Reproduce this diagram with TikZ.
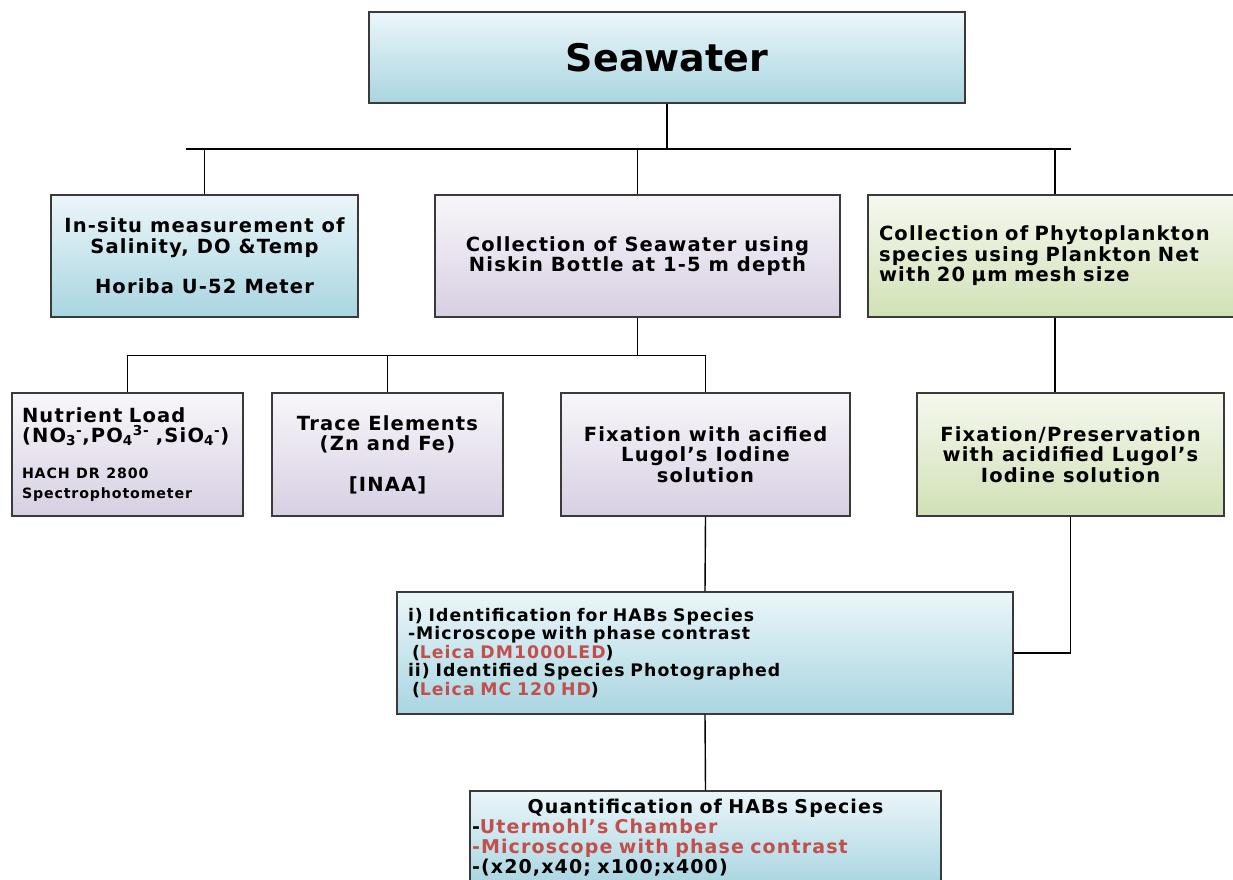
\documentclass[tikz,border=0pt]{standalone}
\usepackage{fontspec}
\setmainfont{DejaVu Sans}
\newfontfamily\boxfont[LetterSpace=6]{DejaVu Sans}
\usepackage{xcolor}
\definecolor{blueTop}{HTML}{EBF6F9}
\definecolor{blueBot}{HTML}{A9D5E1}
\definecolor{lilacTop}{HTML}{F8F6FA}
\definecolor{lilacBot}{HTML}{D7CFE2}
\definecolor{greenTop}{HTML}{F5F8EE}
\definecolor{greenBot}{HTML}{D1E1B6}
\definecolor{boxline}{HTML}{3A3A3A}
\definecolor{redtext}{HTML}{C0504D}

\begin{document}
\begin{tikzpicture}[x=1pt,y=-1pt,
  stagebox/.style={draw=boxline, line width=1.2pt, inner sep=0pt, align=center,
    font=\boxfont\bfseries\fontsize{19.5}{20.5}\selectfont},
  bluebox/.style={stagebox, top color=blueTop, bottom color=blueBot},
  lilacbox/.style={stagebox, top color=lilacTop, bottom color=lilacBot},
  greenbox/.style={stagebox, top color=greenTop, bottom color=greenBot},
  link/.style={draw=black, line width=1.4pt}]
\useasboundingbox (0,0) rectangle (1233,879);
\clip (0,0) rectangle (1233,879);

\node[bluebox, minimum width=596pt, minimum height=91pt, font=\bfseries\fontsize{38}{44}\selectfont] (sea) at (667,57.5) {Seawater};

\node[bluebox, minimum width=307pt, minimum height=122pt] (insitu) at (204.5,256) {In-situ measurement of\\Salinity, DO \&Temp\\[20pt]Horiba U-52 Meter};
\node[lilacbox, minimum width=405pt, minimum height=122pt] (niskin) at (637.5,256) {Collection of Seawater using\\Niskin Bottle at 1-5 m depth};
\node[greenbox, minimum width=374pt, minimum height=122pt, inner xsep=11pt, text width=352pt, align=left] (plank) at (1055,256) {Collection of Phytoplankton\\species using Plankton Net\\with 20 µm mesh size};

\node[lilacbox, minimum width=231pt, minimum height=123pt, inner xsep=10pt, text width=211pt, align=left] (nutri) at (127.5,454.5) {Nutrient Load\\(NO\textsubscript{3}\textsuperscript{-},PO\textsubscript{4}\textsuperscript{3-} ,SiO\textsubscript{4}\textsuperscript{-})\\[15pt]{\fontsize{14.2}{20}\selectfont HACH DR 2800}\\{\fontsize{14.2}{20}\selectfont Spectrophotometer}};
\node[lilacbox, minimum width=231pt, minimum height=123pt] (trace) at (387.5,454.5) {Trace Elements\\(Zn and Fe)\\[20pt]{[INAA]}};
\node[lilacbox, minimum width=289pt, minimum height=123pt] (fixa) at (705.5,454.5) {Fixation with acified\\Lugol’s Iodine\\solution};
\node[greenbox, minimum width=307pt, minimum height=123pt] (pres) at (1070.5,454.5) {Fixation/Preservation\\with acidified Lugol’s\\Iodine solution};

\node[bluebox, minimum width=616pt, minimum height=122pt, inner xsep=11pt, text width=594pt, align=left, font=\boxfont\bfseries\fontsize{17.3}{18.5}\selectfont] (ident) at (705,653) {i) Identification for HABs Species\\-Microscope with phase contrast\\\hspace{4pt}(\textcolor{redtext}{Leica DM1000LED})\\ii) Identified Species Photographed\\\hspace{4pt}(\textcolor{redtext}{Leica MC 120 HD})};
\node[bluebox, minimum width=471pt, minimum height=94pt, inner xsep=2pt, text width=467pt, align=left, font=\boxfont\bfseries\fontsize{19}{20}\selectfont] (quant) at (705.5,838) {\makebox[\linewidth][c]{Quantification of HABs Species}\\-\textcolor{redtext}{Utermohl’s Chamber}\\\textcolor{redtext}{-Microscope with phase contrast}\\-(x20,x40; x100;x400)};

% connectors
\coordinate (topL) at (186,149);
\coordinate (topR) at (1071,149);
\draw[link] (topL) -- (topR);
\draw[link] (sea.south) -- (sea.south |- topL);
\foreach \n in {insitu,niskin,plank}
  \draw[link] (\n.north) -- (\n.north |- topL);
\draw[link] (niskin.south) -- ++(0,38) coordinate (midJ);
\draw[link] (nutri.north) -- (nutri.north |- midJ) -- (fixa.north |- midJ) -- (fixa.north);
\draw[link] (trace.north) -- (trace.north |- midJ);
\draw[link] (plank.south) -- (plank.south |- pres.north);
\draw[link] (fixa.south) -- (ident.north);
\draw[link] (pres.south) |- (ident.east);
\draw[link] (ident.south) -- (quant.north);
\end{tikzpicture}
\end{document}
